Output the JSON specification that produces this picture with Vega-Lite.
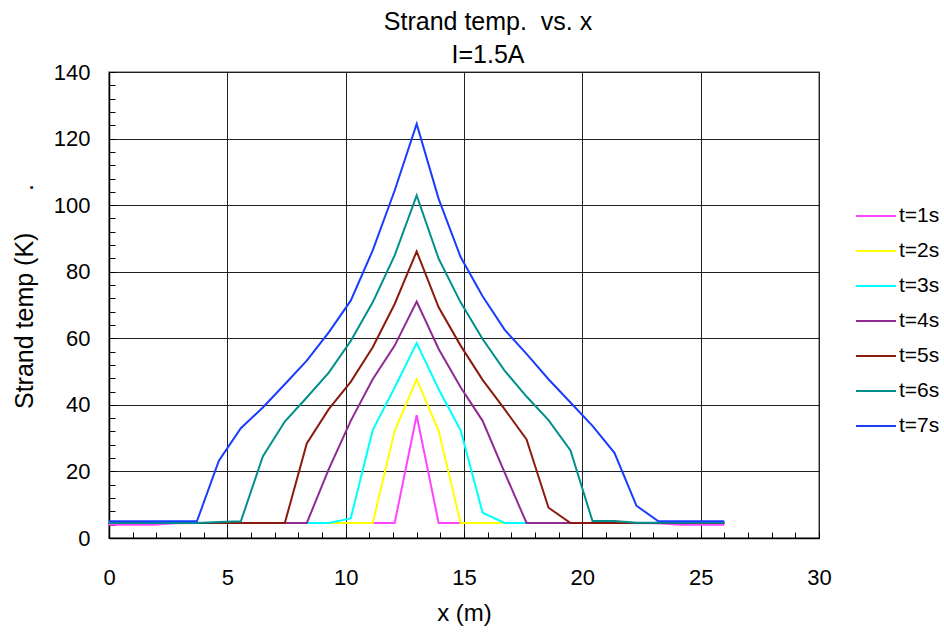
{
  "$schema": "https://vega.github.io/schema/vega-lite/v6.json",
  "width": 710,
  "height": 466,
  "autosize": {"type": "none"},
  "padding": {"left": 109, "top": 72, "right": 125, "bottom": 97},
  "background": "white",
  "title": {
    "text": ["Strand temp.\u00a0 vs. x", "I=1.5A"],
    "font": "Liberation Sans",
    "fontSize": 25,
    "fontWeight": "normal",
    "color": "black",
    "lineHeight": 33,
    "offset": -7,
    "dx": 24
  },
  "config": {
    "view": {"stroke": "#808080", "strokeWidth": 1.5},
    "font": "Liberation Sans"
  },
  "data": {
    "values": [
      {"t": "t=1s", "x": 0, "T": 4.0}, {"t": "t=1s", "x": 0.929, "T": 4.0}, {"t": "t=1s", "x": 1.857, "T": 4.0}, {"t": "t=1s", "x": 2.786, "T": 4.4}, {"t": "t=1s", "x": 3.714, "T": 4.5}, {"t": "t=1s", "x": 4.643, "T": 4.5}, {"t": "t=1s", "x": 5.571, "T": 4.5}, {"t": "t=1s", "x": 6.5, "T": 4.5}, {"t": "t=1s", "x": 7.429, "T": 4.5}, {"t": "t=1s", "x": 8.357, "T": 4.5}, {"t": "t=1s", "x": 9.286, "T": 4.5}, {"t": "t=1s", "x": 10.214, "T": 4.5}, {"t": "t=1s", "x": 11.143, "T": 4.5}, {"t": "t=1s", "x": 12.071, "T": 4.5}, {"t": "t=1s", "x": 13, "T": 36.9}, {"t": "t=1s", "x": 13.929, "T": 4.5}, {"t": "t=1s", "x": 14.857, "T": 4.5}, {"t": "t=1s", "x": 15.786, "T": 4.5}, {"t": "t=1s", "x": 16.714, "T": 4.5}, {"t": "t=1s", "x": 17.643, "T": 4.5}, {"t": "t=1s", "x": 18.571, "T": 4.5}, {"t": "t=1s", "x": 19.5, "T": 4.5}, {"t": "t=1s", "x": 20.429, "T": 4.5}, {"t": "t=1s", "x": 21.357, "T": 4.5}, {"t": "t=1s", "x": 22.286, "T": 4.5}, {"t": "t=1s", "x": 23.214, "T": 4.4}, {"t": "t=1s", "x": 24.143, "T": 4.0}, {"t": "t=1s", "x": 25.071, "T": 4.0}, {"t": "t=1s", "x": 26, "T": 4.0},
      {"t": "t=2s", "x": 0, "T": 4.5}, {"t": "t=2s", "x": 0.929, "T": 4.5}, {"t": "t=2s", "x": 1.857, "T": 4.5}, {"t": "t=2s", "x": 2.786, "T": 4.5}, {"t": "t=2s", "x": 3.714, "T": 4.5}, {"t": "t=2s", "x": 4.643, "T": 4.5}, {"t": "t=2s", "x": 5.571, "T": 4.5}, {"t": "t=2s", "x": 6.5, "T": 4.5}, {"t": "t=2s", "x": 7.429, "T": 4.5}, {"t": "t=2s", "x": 8.357, "T": 4.5}, {"t": "t=2s", "x": 9.286, "T": 4.5}, {"t": "t=2s", "x": 10.214, "T": 4.5}, {"t": "t=2s", "x": 11.143, "T": 4.5}, {"t": "t=2s", "x": 12.071, "T": 32.2}, {"t": "t=2s", "x": 13, "T": 47.7}, {"t": "t=2s", "x": 13.929, "T": 32.2}, {"t": "t=2s", "x": 14.857, "T": 4.5}, {"t": "t=2s", "x": 15.786, "T": 4.5}, {"t": "t=2s", "x": 16.714, "T": 4.5}, {"t": "t=2s", "x": 17.643, "T": 4.5}, {"t": "t=2s", "x": 18.571, "T": 4.5}, {"t": "t=2s", "x": 19.5, "T": 4.5}, {"t": "t=2s", "x": 20.429, "T": 4.5}, {"t": "t=2s", "x": 21.357, "T": 4.5}, {"t": "t=2s", "x": 22.286, "T": 4.5}, {"t": "t=2s", "x": 23.214, "T": 4.5}, {"t": "t=2s", "x": 24.143, "T": 4.5}, {"t": "t=2s", "x": 25.071, "T": 4.5}, {"t": "t=2s", "x": 26, "T": 4.5},
      {"t": "t=3s", "x": 0, "T": 4.5}, {"t": "t=3s", "x": 0.929, "T": 4.5}, {"t": "t=3s", "x": 1.857, "T": 4.5}, {"t": "t=3s", "x": 2.786, "T": 4.5}, {"t": "t=3s", "x": 3.714, "T": 4.5}, {"t": "t=3s", "x": 4.643, "T": 4.5}, {"t": "t=3s", "x": 5.571, "T": 4.5}, {"t": "t=3s", "x": 6.5, "T": 4.5}, {"t": "t=3s", "x": 7.429, "T": 4.5}, {"t": "t=3s", "x": 8.357, "T": 4.5}, {"t": "t=3s", "x": 9.286, "T": 4.5}, {"t": "t=3s", "x": 10.214, "T": 5.9}, {"t": "t=3s", "x": 11.143, "T": 32.4}, {"t": "t=3s", "x": 12.071, "T": 45.2}, {"t": "t=3s", "x": 13, "T": 58.6}, {"t": "t=3s", "x": 13.929, "T": 44.7}, {"t": "t=3s", "x": 14.857, "T": 32.4}, {"t": "t=3s", "x": 15.786, "T": 7.6}, {"t": "t=3s", "x": 16.714, "T": 4.5}, {"t": "t=3s", "x": 17.643, "T": 4.5}, {"t": "t=3s", "x": 18.571, "T": 4.5}, {"t": "t=3s", "x": 19.5, "T": 4.5}, {"t": "t=3s", "x": 20.429, "T": 4.5}, {"t": "t=3s", "x": 21.357, "T": 4.5}, {"t": "t=3s", "x": 22.286, "T": 4.5}, {"t": "t=3s", "x": 23.214, "T": 4.5}, {"t": "t=3s", "x": 24.143, "T": 4.5}, {"t": "t=3s", "x": 25.071, "T": 4.5}, {"t": "t=3s", "x": 26, "T": 4.5},
      {"t": "t=4s", "x": 0, "T": 4.5}, {"t": "t=4s", "x": 0.929, "T": 4.5}, {"t": "t=4s", "x": 1.857, "T": 4.5}, {"t": "t=4s", "x": 2.786, "T": 4.5}, {"t": "t=4s", "x": 3.714, "T": 4.5}, {"t": "t=4s", "x": 4.643, "T": 4.5}, {"t": "t=4s", "x": 5.571, "T": 4.5}, {"t": "t=4s", "x": 6.5, "T": 4.5}, {"t": "t=4s", "x": 7.429, "T": 4.5}, {"t": "t=4s", "x": 8.357, "T": 4.5}, {"t": "t=4s", "x": 9.286, "T": 20.7}, {"t": "t=4s", "x": 10.214, "T": 35.2}, {"t": "t=4s", "x": 11.143, "T": 47.7}, {"t": "t=4s", "x": 12.071, "T": 57.8}, {"t": "t=4s", "x": 13, "T": 71.0}, {"t": "t=4s", "x": 13.929, "T": 56.8}, {"t": "t=4s", "x": 14.857, "T": 45.3}, {"t": "t=4s", "x": 15.786, "T": 35.2}, {"t": "t=4s", "x": 16.714, "T": 19.7}, {"t": "t=4s", "x": 17.643, "T": 4.5}, {"t": "t=4s", "x": 18.571, "T": 4.5}, {"t": "t=4s", "x": 19.5, "T": 4.5}, {"t": "t=4s", "x": 20.429, "T": 4.5}, {"t": "t=4s", "x": 21.357, "T": 4.5}, {"t": "t=4s", "x": 22.286, "T": 4.5}, {"t": "t=4s", "x": 23.214, "T": 4.5}, {"t": "t=4s", "x": 24.143, "T": 4.5}, {"t": "t=4s", "x": 25.071, "T": 4.5}, {"t": "t=4s", "x": 26, "T": 4.5},
      {"t": "t=5s", "x": 0, "T": 4.5}, {"t": "t=5s", "x": 0.929, "T": 4.5}, {"t": "t=5s", "x": 1.857, "T": 4.5}, {"t": "t=5s", "x": 2.786, "T": 4.5}, {"t": "t=5s", "x": 3.714, "T": 4.5}, {"t": "t=5s", "x": 4.643, "T": 4.5}, {"t": "t=5s", "x": 5.571, "T": 4.5}, {"t": "t=5s", "x": 6.5, "T": 4.5}, {"t": "t=5s", "x": 7.429, "T": 4.5}, {"t": "t=5s", "x": 8.357, "T": 28.4}, {"t": "t=5s", "x": 9.286, "T": 38.7}, {"t": "t=5s", "x": 10.214, "T": 46.9}, {"t": "t=5s", "x": 11.143, "T": 57.3}, {"t": "t=5s", "x": 12.071, "T": 70.3}, {"t": "t=5s", "x": 13, "T": 86.1}, {"t": "t=5s", "x": 13.929, "T": 69.3}, {"t": "t=5s", "x": 14.857, "T": 57.8}, {"t": "t=5s", "x": 15.786, "T": 47.5}, {"t": "t=5s", "x": 16.714, "T": 38.7}, {"t": "t=5s", "x": 17.643, "T": 29.6}, {"t": "t=5s", "x": 18.571, "T": 9.1}, {"t": "t=5s", "x": 19.5, "T": 4.5}, {"t": "t=5s", "x": 20.429, "T": 4.5}, {"t": "t=5s", "x": 21.357, "T": 4.5}, {"t": "t=5s", "x": 22.286, "T": 4.5}, {"t": "t=5s", "x": 23.214, "T": 4.5}, {"t": "t=5s", "x": 24.143, "T": 4.5}, {"t": "t=5s", "x": 25.071, "T": 4.5}, {"t": "t=5s", "x": 26, "T": 4.5},
      {"t": "t=6s", "x": 0, "T": 4.5}, {"t": "t=6s", "x": 0.929, "T": 4.5}, {"t": "t=6s", "x": 1.857, "T": 4.5}, {"t": "t=6s", "x": 2.786, "T": 4.5}, {"t": "t=6s", "x": 3.714, "T": 4.5}, {"t": "t=6s", "x": 4.643, "T": 4.8}, {"t": "t=6s", "x": 5.571, "T": 5.0}, {"t": "t=6s", "x": 6.5, "T": 24.5}, {"t": "t=6s", "x": 7.429, "T": 35.0}, {"t": "t=6s", "x": 8.357, "T": 42.2}, {"t": "t=6s", "x": 9.286, "T": 49.7}, {"t": "t=6s", "x": 10.214, "T": 59.2}, {"t": "t=6s", "x": 11.143, "T": 70.8}, {"t": "t=6s", "x": 12.071, "T": 84.9}, {"t": "t=6s", "x": 13, "T": 102.9}, {"t": "t=6s", "x": 13.929, "T": 83.9}, {"t": "t=6s", "x": 14.857, "T": 70.8}, {"t": "t=6s", "x": 15.786, "T": 59.8}, {"t": "t=6s", "x": 16.714, "T": 50.3}, {"t": "t=6s", "x": 17.643, "T": 42.5}, {"t": "t=6s", "x": 18.571, "T": 35.4}, {"t": "t=6s", "x": 19.5, "T": 26.3}, {"t": "t=6s", "x": 20.429, "T": 5.1}, {"t": "t=6s", "x": 21.357, "T": 5.1}, {"t": "t=6s", "x": 22.286, "T": 4.6}, {"t": "t=6s", "x": 23.214, "T": 4.6}, {"t": "t=6s", "x": 24.143, "T": 4.6}, {"t": "t=6s", "x": 25.071, "T": 4.6}, {"t": "t=6s", "x": 26, "T": 4.6},
      {"t": "t=7s", "x": 0, "T": 5.0}, {"t": "t=7s", "x": 0.929, "T": 5.0}, {"t": "t=7s", "x": 1.857, "T": 5.0}, {"t": "t=7s", "x": 2.786, "T": 5.0}, {"t": "t=7s", "x": 3.714, "T": 5.0}, {"t": "t=7s", "x": 4.643, "T": 23.2}, {"t": "t=7s", "x": 5.571, "T": 33.0}, {"t": "t=7s", "x": 6.5, "T": 39.2}, {"t": "t=7s", "x": 7.429, "T": 46.2}, {"t": "t=7s", "x": 8.357, "T": 53.3}, {"t": "t=7s", "x": 9.286, "T": 61.8}, {"t": "t=7s", "x": 10.214, "T": 71.3}, {"t": "t=7s", "x": 11.143, "T": 86.4}, {"t": "t=7s", "x": 12.071, "T": 104.4}, {"t": "t=7s", "x": 13, "T": 124.4}, {"t": "t=7s", "x": 13.929, "T": 101.9}, {"t": "t=7s", "x": 14.857, "T": 84.4}, {"t": "t=7s", "x": 15.786, "T": 72.6}, {"t": "t=7s", "x": 16.714, "T": 62.6}, {"t": "t=7s", "x": 17.643, "T": 55.3}, {"t": "t=7s", "x": 18.571, "T": 47.7}, {"t": "t=7s", "x": 19.5, "T": 40.7}, {"t": "t=7s", "x": 20.429, "T": 33.7}, {"t": "t=7s", "x": 21.357, "T": 25.6}, {"t": "t=7s", "x": 22.286, "T": 9.7}, {"t": "t=7s", "x": 23.214, "T": 5.0}, {"t": "t=7s", "x": 24.143, "T": 5.0}, {"t": "t=7s", "x": 25.071, "T": 5.0}, {"t": "t=7s", "x": 26, "T": 5.0}
    ]
  },
  "mark": {"type": "line", "strokeWidth": 2, "clip": true},
  "encoding": {
    "x": {
      "field": "x",
      "type": "quantitative",
      "scale": {"domain": [0, 30], "nice": false, "zero": false},
      "axis": {
        "title": "x (m)",
        "values": [0,1,2,3,4,5,6,7,8,9,10,11,12,13,14,15,16,17,18,19,20,21,22,23,24,25,26,27,28,29,30],
        "labelExpr": "datum.value % 5 === 0 ? datum.label : ''",
        "grid": true,
        "gridColor": "#222222",
        "gridWidth": 1,
        "gridOpacity": {"condition": {"test": "datum.value % 5 === 0", "value": 1}, "value": 0},
        "domainColor": "black",
        "domainWidth": 1.5,
        "tickColor": "black",
        "tickSize": -6,
        "labelFont": "Liberation Sans",
        "labelFontSize": 22,
        "labelColor": "black",
        "labelPadding": 35,
        "labelFlush": false,
        "labelOverlap": false,
        "titleFont": "Liberation Sans",
        "titleFontSize": 24,
        "titleFontWeight": "normal",
        "titleColor": "black",
        "titlePadding": 13
      }
    },
    "y": {
      "field": "T",
      "type": "quantitative",
      "scale": {"domain": [0, 140], "nice": false, "zero": true},
      "axis": {
        "title": "Strand temp (K)\u00a0\u00a0\u00a0\u00a0\u00a0\u00a0.",
        "values": [0,4,8,12,16,20,24,28,32,36,40,44,48,52,56,60,64,68,72,76,80,84,88,92,96,100,104,108,112,116,120,124,128,132,136,140],
        "labelExpr": "datum.value % 20 === 0 ? datum.label : ''",
        "grid": true,
        "gridColor": "#222222",
        "gridWidth": 1,
        "gridOpacity": {"condition": {"test": "datum.value % 20 === 0", "value": 1}, "value": 0},
        "domainColor": "black",
        "domainWidth": 1.5,
        "tickColor": "black",
        "tickSize": -6,
        "labelFont": "Liberation Sans",
        "labelFontSize": 22,
        "labelColor": "black",
        "labelPadding": 25,
        "labelFlush": false,
        "labelOverlap": false,
        "titleFont": "Liberation Sans",
        "titleFontSize": 25,
        "titleFontWeight": "normal",
        "titleColor": "black",
        "titlePadding": 16,
        "titleY": 224
      }
    },
    "color": {
      "field": "t",
      "type": "nominal",
      "scale": {
        "domain": ["t=1s", "t=2s", "t=3s", "t=4s", "t=5s", "t=6s", "t=7s"],
        "range": ["#ff44ff", "#ffff00", "#00ffff", "#8f2a92", "#8b1a0e", "#00908c", "#1a3cff"]
      },
      "legend": {
        "title": null,
        "orient": "none",
        "legendX": 746,
        "legendY": 123,
        "symbolType": "stroke",
        "symbolSize": 1600,
        "symbolStrokeWidth": 2,
        "labelFont": "Liberation Sans",
        "labelFontSize": 21,
        "labelColor": "black",
        "labelOffset": 2,
        "rowPadding": 4,
        "padding": 0
      }
    }
  }
}
